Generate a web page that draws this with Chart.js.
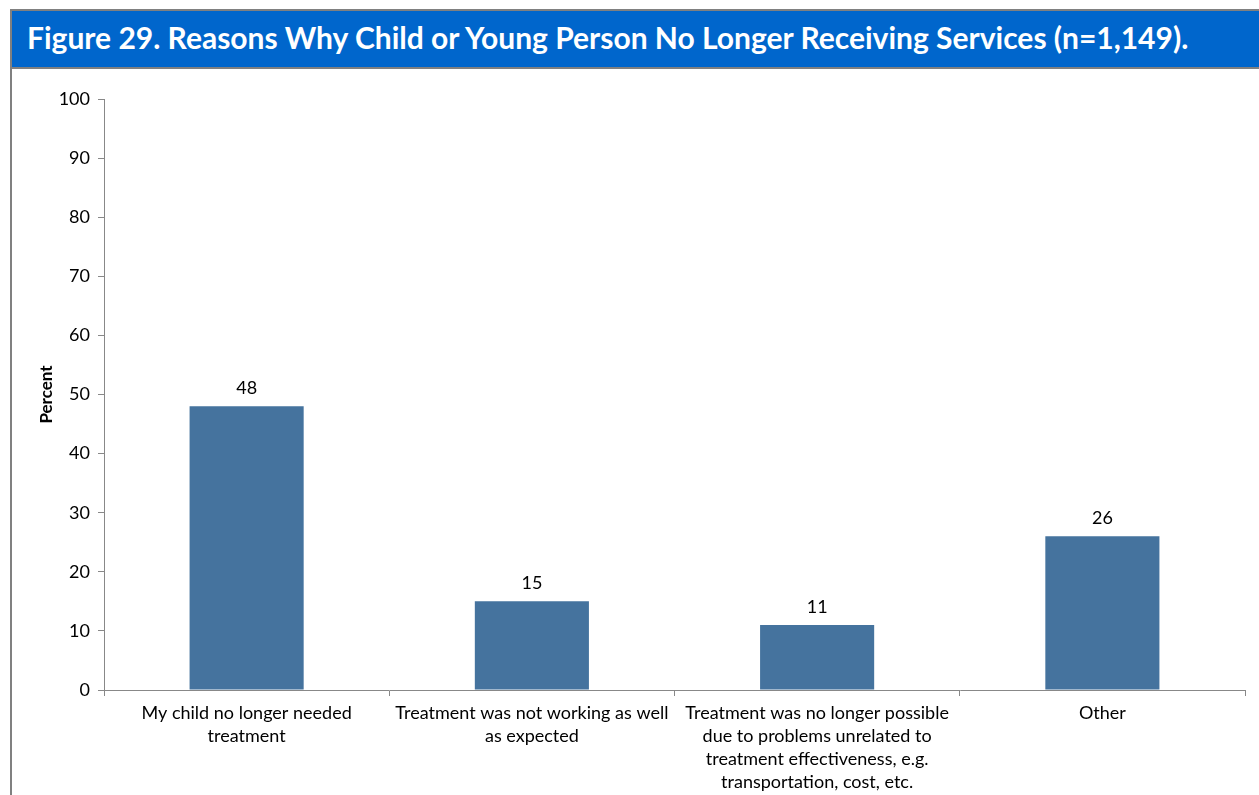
<!DOCTYPE html>
<html>
<head>
<meta charset="utf-8">
<script src="https://cdn.jsdelivr.net/npm/chart.js@4/dist/chart.umd.min.js"></script>
<style>
    body { margin: 0; background: #fff; width: 1259px; height: 795px; overflow: hidden; position: relative; font-family: Lato, "Open Sans", sans-serif; }
    #titlebar { position: absolute; left: 10px; top: 9px; width: 1249px; height: 56px; background: #0066cc; border-top: 2px solid #808080; border-bottom: 2px solid #808080; border-left: 2px solid #808080; box-sizing: content-box; }
    #titlebar span { position: absolute; left: 15px; top: 8px; color: #fff; font-weight: bold; font-size: 30px; white-space: nowrap; }
    #leftline { position: absolute; left: 10px; top: 69px; width: 2px; height: 726px; background: #808080; }
    #wrap { position: absolute; left: 12px; top: 69px; width: 1247px; height: 726px; }
</style>
</head>
<body>
<div id="titlebar"><span>Figure 29. Reasons Why Child or Young Person No Longer Receiving Services (n=1,149).</span></div>
<div id="leftline"></div>
<div id="wrap"><canvas id="grafico"></canvas></div>
<script>
const categorias = [
    ['My child no longer needed', 'treatment'],
    ['Treatment was not working as well', 'as expected'],
    ['Treatment was no longer possible', 'due to problems unrelated to', 'treatment effectiveness, e.g.', 'transportation, cost, etc.'],
    ['Other']
];
const porcentajes = [48, 15, 11, 26];
const ejeY = { min: 0, max: 100, paso: 10 };

const etiquetasValor = {
    id: 'etiquetasValor',
    afterDatasetsDraw(chart) {
        const ctx = chart.ctx;
        ctx.save();
        ctx.font = '18px Lato, "Open Sans", sans-serif';
        ctx.fillStyle = '#000';
        ctx.textAlign = 'center';
        ctx.textBaseline = 'middle';
        chart.getDatasetMeta(0).data.forEach(function (bar, i) {
            ctx.fillText(porcentajes[i], bar.x, bar.y - 18);
        });
        ctx.restore();
    }
};

const ctx = document.getElementById('grafico').getContext('2d');
new Chart(ctx, {
    type: 'bar',
    data: {
        labels: categorias,
        datasets: [{
            data: porcentajes,
            backgroundColor: '#45739e',
            barPercentage: 0.4,
            categoryPercentage: 1
        }]
    },
    options: {
        responsive: true,
        maintainAspectRatio: false,
        animation: false,
        layout: { padding: { top: 30, right: 14, left: 0, bottom: 0 } },
        plugins: {
            legend: { display: false },
            tooltip: { enabled: false }
        },
        scales: {
            x: {
                grid: { offset: true, drawOnChartArea: false, tickLength: 6, color: '#888' },
                border: { color: '#888' },
                ticks: {
                    color: '#000',
                    font: { family: 'Lato', size: 18, lineHeight: 1.28 },
                    maxRotation: 0,
                    autoSkip: false,
                    padding: 6
                },
                afterFit: function (s) { s.height = 105; }
            },
            y: {
                min: ejeY.min,
                max: ejeY.max,
                grid: { drawOnChartArea: false, tickLength: 6, color: '#888' },
                border: { color: '#888' },
                ticks: {
                    stepSize: ejeY.paso,
                    color: '#000',
                    font: { family: 'Lato', size: 18 },
                    padding: 8
                },
                title: {
                    display: true,
                    text: 'Percent',
                    color: '#000',
                    font: { family: 'Lato', size: 17, weight: 'bold' },
                    padding: { top: 24, bottom: 0 }
                },
                afterFit: function (s) { s.width = 92; }
            }
        }
    },
    plugins: [etiquetasValor]
});
</script>
</body>
</html>
